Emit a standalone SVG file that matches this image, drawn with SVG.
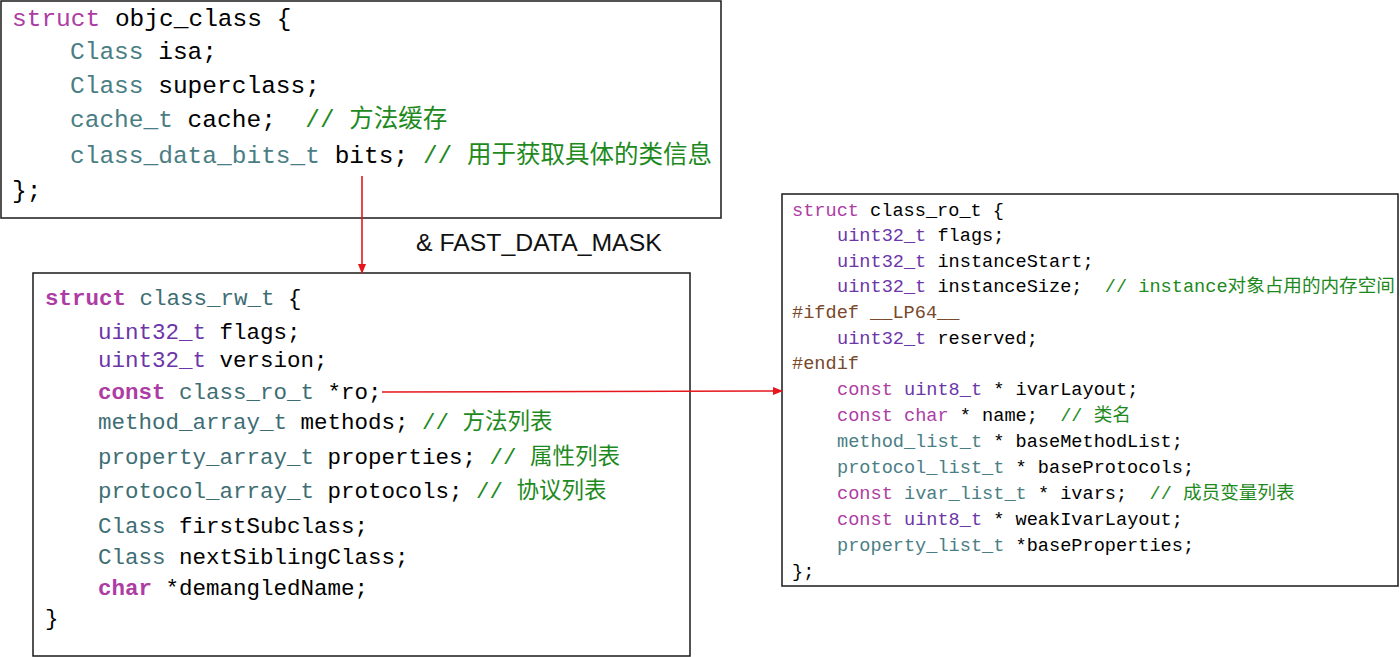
<svg xmlns="http://www.w3.org/2000/svg" width="1400" height="657" viewBox="0 0 1400 657">
<style>
.box{fill:#fff;stroke:#1a1a1a;stroke-width:1.5}
.code{font-family:"Liberation Mono","Noto Sans CJK SC",monospace;fill:#000;white-space:pre}
.b1{font-size:24.5px}
.b2{font-size:22.5px}
.b3{font-size:18.6px}
.kw{fill:#AD3DA4}
.bd{font-weight:bold}
.ty{fill:#4A7E84}
.ty2{fill:#3E6D74}
.sys{fill:#6C36A9}
.cm{fill:#1E8A1E}
.pp{fill:#78492A}
.lbl{font-family:"Liberation Sans",Arial,sans-serif;font-size:24.8px;fill:#111}
.conn{stroke:#E5161C;stroke-width:1.6;fill:none}
</style>
<defs>
<marker id="ah" markerWidth="10" markerHeight="8" refX="9" refY="4" orient="auto" markerUnits="userSpaceOnUse">
<path d="M0,0 L10,4 L0,8 Z" fill="#E5161C"/>
</marker>
</defs>
<rect width="1400" height="657" fill="#fff"/>
<g id="objc_class">
<rect class="box" x="1" y="1" width="720" height="217"/>
<text class="code b1" x="12" y="26"><tspan class="kw">struct</tspan> objc_class {</text>
<text class="code b1" x="70" y="59"><tspan class="ty">Class</tspan> isa;</text>
<text class="code b1" x="70" y="93"><tspan class="ty">Class</tspan> superclass;</text>
<text class="code b1" x="70" y="127"><tspan class="ty">cache_t</tspan> cache;  <tspan class="cm">// 方法缓存</tspan></text>
<text class="code b1" x="70" y="163"><tspan class="ty">class_data_bits_t</tspan> bits; <tspan class="cm">// 用于获取具体的类信息</tspan></text>
<text class="code b1" x="12" y="198">};</text>
</g>
<g id="class_rw_t">
<rect class="box" x="33" y="273" width="657" height="383"/>
<text class="code b2" x="45" y="305"><tspan class="kw bd">struct</tspan> <tspan class="ty2">class_rw_t</tspan> {</text>
<text class="code b2" x="98" y="339"><tspan class="sys">uint32_t</tspan> flags;</text>
<text class="code b2" x="98" y="367"><tspan class="sys">uint32_t</tspan> version;</text>
<text class="code b2" x="98" y="399"><tspan class="kw bd">const</tspan> <tspan class="ty2">class_ro_t</tspan> *ro;</text>
<text class="code b2" x="98" y="429"><tspan class="ty2">method_array_t</tspan> methods; <tspan class="cm">// 方法列表</tspan></text>
<text class="code b2" x="98" y="464"><tspan class="ty2">property_array_t</tspan> properties; <tspan class="cm">// 属性列表</tspan></text>
<text class="code b2" x="98" y="498"><tspan class="ty2">protocol_array_t</tspan> protocols; <tspan class="cm">// 协议列表</tspan></text>
<text class="code b2" x="98" y="533"><tspan class="ty2">Class</tspan> firstSubclass;</text>
<text class="code b2" x="98" y="564"><tspan class="ty2">Class</tspan> nextSiblingClass;</text>
<text class="code b2" x="98" y="595"><tspan class="kw bd">char</tspan> *demangledName;</text>
<text class="code b2" x="45" y="625">}</text>
</g>
<g id="class_ro_t">
<rect class="box" x="782" y="194" width="616" height="392"/>
<text class="code b3" x="792" y="216"><tspan class="kw">struct</tspan> class_ro_t {</text>
<text class="code b3" x="837" y="241"><tspan class="sys">uint32_t</tspan> flags;</text>
<text class="code b3" x="837" y="267"><tspan class="sys">uint32_t</tspan> instanceStart;</text>
<text class="code b3" x="837" y="292"><tspan class="sys">uint32_t</tspan> instanceSize;  <tspan class="cm">// instance对象占用的内存空间</tspan></text>
<text class="code b3 pp" x="792" y="318">#ifdef __LP64__</text>
<text class="code b3" x="837" y="344"><tspan class="sys">uint32_t</tspan> reserved;</text>
<text class="code b3 pp" x="792" y="369">#endif</text>
<text class="code b3" x="837" y="395"><tspan class="kw">const</tspan> <tspan class="sys">uint8_t</tspan> * ivarLayout;</text>
<text class="code b3" x="837" y="421"><tspan class="kw">const</tspan> <tspan class="kw">char</tspan> * name;  <tspan class="cm">// 类名</tspan></text>
<text class="code b3" x="837" y="447"><tspan class="ty">method_list_t</tspan> * baseMethodList;</text>
<text class="code b3" x="837" y="473"><tspan class="ty">protocol_list_t</tspan> * baseProtocols;</text>
<text class="code b3" x="837" y="499"><tspan class="kw">const</tspan> <tspan class="ty">ivar_list_t</tspan> * ivars;  <tspan class="cm">// 成员变量列表</tspan></text>
<text class="code b3" x="837" y="525"><tspan class="kw">const</tspan> <tspan class="sys">uint8_t</tspan> * weakIvarLayout;</text>
<text class="code b3" x="837" y="551"><tspan class="ty">property_list_t</tspan> *baseProperties;</text>
<text class="code b3" x="792" y="577">};</text>
</g>
<g id="connectors">
<line class="conn" x1="362" y1="176" x2="362" y2="273" marker-end="url(#ah)"/>
<line class="conn" x1="382" y1="392" x2="782" y2="391" marker-end="url(#ah)"/>
<text class="lbl" x="416" y="251">&amp; FAST_DATA_MASK</text>
</g>
</svg>
